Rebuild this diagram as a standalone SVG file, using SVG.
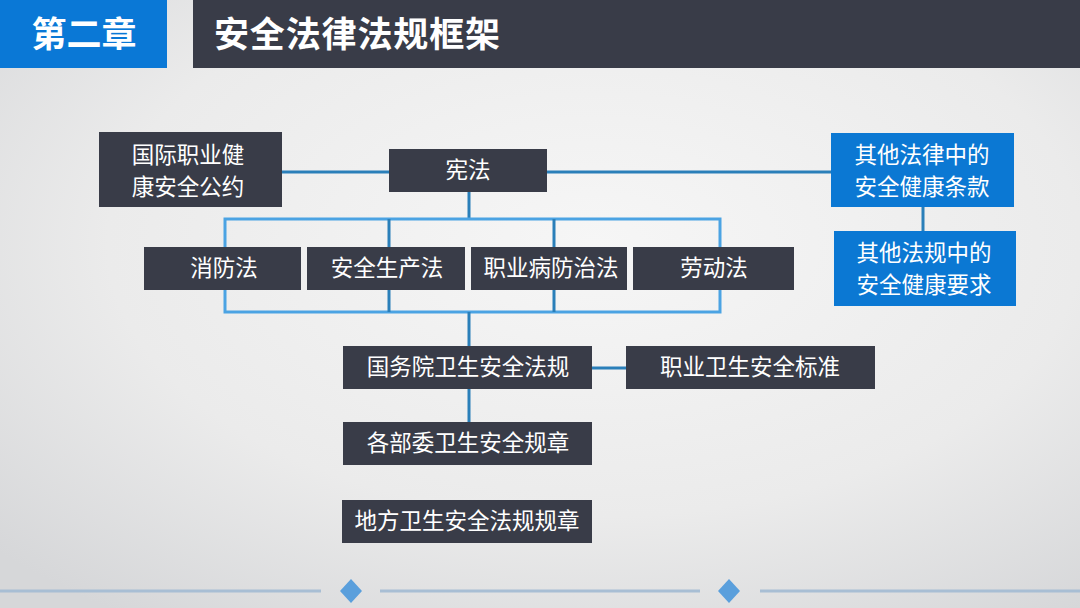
<svg xmlns="http://www.w3.org/2000/svg" width="1080" height="608" viewBox="0 0 1080 608">
<defs>
<radialGradient id="bg" cx="0.55" cy="0.4" r="0.75">
<stop offset="0" stop-color="#f6f6f6"/>
<stop offset="0.6" stop-color="#ebebeb"/>
<stop offset="1" stop-color="#d6d7d9"/>
</radialGradient>
<style>
.dk{fill:#393c48}
.bl{fill:#0b78d3}
.t{font-family:"Noto Sans CJK SC","Noto Sans",sans-serif;font-size:22.5px;fill:#ffffff;text-anchor:middle}
.h{font-family:"Noto Sans CJK SC","Noto Sans",sans-serif;font-size:35px;font-weight:bold;fill:#ffffff}
.c{stroke:#2a7fb9;stroke-width:3;fill:none}
.cl{stroke:#4ba3e3;stroke-width:3;fill:none}
.fl{stroke:#a8bed4;stroke-width:3}
.dm{fill:#5a9fdc}
</style>
</defs>
<rect width="1080" height="608" fill="url(#bg)"/>
<g id="header">
<rect x="0" y="0" width="167" height="68" fill="#0a78d6"/>
<text class="h" x="84" y="47" text-anchor="middle">第二章</text>
<rect x="193" y="0" width="887" height="68" fill="#393c48"/>
<text class="h" x="214" y="47" textLength="286">安全法律法规框架</text>
</g>
<g id="connectors">
<line class="c" x1="282" y1="172" x2="831" y2="172"/>
<line class="c" x1="469" y1="192" x2="469" y2="219"/>
<line class="c" x1="923" y1="207" x2="923" y2="231"/>
<rect class="cl" x="225" y="219" width="495" height="93"/>
<line class="c" x1="389" y1="219" x2="389" y2="312"/>
<line class="c" x1="554" y1="219" x2="554" y2="312"/>
<line class="c" x1="469" y1="312" x2="469" y2="346"/>
<line class="c" x1="592" y1="368" x2="626" y2="368"/>
<line class="c" x1="469" y1="389" x2="469" y2="422"/>
</g>
<g id="n-intl"><rect class="dk" x="99" y="132" width="183" height="75"/><text class="t" x="188" y="163">国际职业健</text><text class="t" x="188" y="195">康安全公约</text></g>
<g id="n-xianfa"><rect class="dk" x="389" y="149" width="158" height="43"/><text class="t" x="468" y="178">宪法</text></g>
<g id="n-other-law"><rect class="bl" x="831" y="133" width="183" height="74"/><text class="t" x="922" y="163">其他法律中的</text><text class="t" x="922" y="195">安全健康条款</text></g>
<g id="n-other-reg"><rect class="bl" x="834" y="231" width="182" height="75"/><text class="t" x="924" y="261">其他法规中的</text><text class="t" x="924" y="293">安全健康要求</text></g>
<g id="n-xiaofang"><rect class="dk" x="144" y="247" width="157" height="43"/><text class="t" x="224" y="276">消防法</text></g>
<g id="n-anquan"><rect class="dk" x="307" y="247" width="158" height="43"/><text class="t" x="387" y="276">安全生产法</text></g>
<g id="n-zhiye"><rect class="dk" x="471" y="247" width="156" height="43"/><text class="t" x="551" y="276">职业病防治法</text></g>
<g id="n-laodong"><rect class="dk" x="633" y="247" width="161" height="43"/><text class="t" x="714" y="276">劳动法</text></g>
<g id="n-guowuyuan"><rect class="dk" x="343" y="346" width="249" height="43"/><text class="t" x="468" y="375">国务院卫生安全法规</text></g>
<g id="n-biaozhun"><rect class="dk" x="626" y="346" width="249" height="43"/><text class="t" x="750" y="375">职业卫生安全标准</text></g>
<g id="n-buwei"><rect class="dk" x="343" y="422" width="249" height="43"/><text class="t" x="468" y="451">各部委卫生安全规章</text></g>
<g id="n-difang"><rect class="dk" x="342" y="500" width="250" height="43"/><text class="t" x="467" y="529">地方卫生安全法规规章</text></g>
<g id="footer">
<line class="fl" x1="0" y1="591" x2="321" y2="591"/>
<line class="fl" x1="380" y1="591" x2="700" y2="591"/>
<line class="fl" x1="760" y1="591" x2="1080" y2="591"/>
<polygon class="dm" points="351,579 362,591 351,603 340,591"/>
<polygon class="dm" points="729,579 740,591 729,603 718,591"/>
</g>
</svg>
